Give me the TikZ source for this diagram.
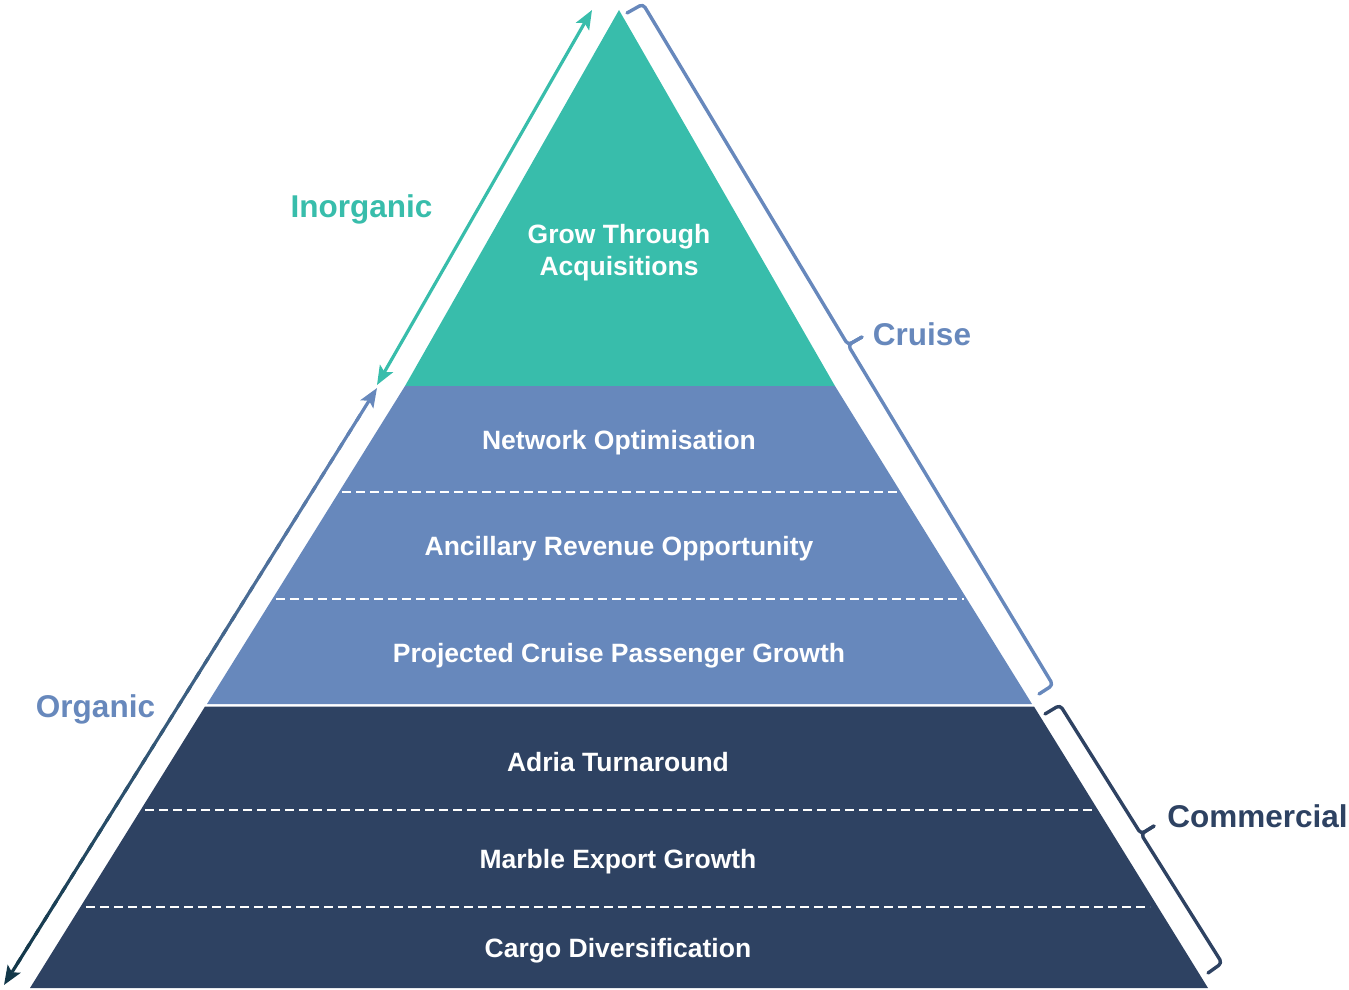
\documentclass[tikz,border=0pt]{standalone}
\usepackage{fontspec}
\setmainfont{Liberation Sans}
\usetikzlibrary{arrows.meta,calc}
\definecolor{teal1}{HTML}{38BDAB}
\definecolor{blue1}{HTML}{6788BC}
\definecolor{navy1}{HTML}{2E4262}
\definecolor{orgtop}{HTML}{6788BC}
\definecolor{orgbot}{HTML}{123749}
\begin{document}
\begin{tikzpicture}[x=1pt,y=-1pt,
  bandtext/.style={text=white,font=\fontsize{26.5}{32}\selectfont\bfseries,anchor=base,inner sep=0pt},
  sidetext/.style={font=\fontsize{31.5}{36}\selectfont\bfseries,anchor=base,inner sep=0pt},
  divider/.style={white,line width=1.8pt,dash pattern=on 8.5pt off 5.5pt},
  bracket/.style={line width=3.4pt,rounded corners=4pt,line cap=round,line join=round},
  tipstyle/.style={-{Stealth[length=19pt,width=15pt,inset=4pt]}},
]
\useasboundingbox (0,0) rectangle (1349,990);
% pyramid
\fill[teal1] (619,10) -- (835,386) -- (405,386) -- cycle;
\fill[blue1] (405,386) -- (835,386) -- (1032,704) -- (207,704) -- cycle;
\fill[navy1] (205,706.5) -- (1034,706.5) -- (1208,988) -- (30,988) -- cycle;
% dividers
\draw[divider] (342,492) -- (899,492);
\draw[divider] (276,599) -- (964,599);
\draw[divider] (145,810) -- (1095,810);
\draw[divider] (86,907) -- (1150,907);
% texts
\node[bandtext] (grow1) at (619,243.5) {Grow Through};
\node[bandtext] (grow2) at (619,275.5) {Acquisitions};
\node[bandtext] (net) at (619,449.5) {Network Optimisation};
\node[bandtext] (anc) at (619,555.5) {Ancillary Revenue Opportunity};
\node[bandtext] (proj) at (619,662.5) {Projected Cruise Passenger Growth};
\node[bandtext] (adria) at (618,771.5) {Adria Turnaround};
\node[bandtext] (marble) at (618,868.5) {Marble Export Growth};
\node[bandtext] (cargo) at (618,957.5) {Cargo Diversification};
% side labels
\node[sidetext,text=teal1] (inorg) at (361.5,217) {Inorganic};
\node[sidetext,text=blue1] (org) at (95.5,717) {Organic};
\node[sidetext,text=blue1] (cruise) at (922,345) {Cruise};
\node[sidetext,text=navy1] (comm) at (1257.5,827) {Commercial};
% inorganic arrow
\coordinate (inA) at (377,385);
\coordinate (inB) at (592,10);
\draw[teal1,line width=3.2pt,{Stealth[length=19pt,width=15pt,inset=4pt]}-{Stealth[length=19pt,width=15pt,inset=4pt]}] (inA) -- (inB);
% organic arrow with gradient
\coordinate (orgA) at (377,388);
\coordinate (orgB) at (4,985);
\coordinate (orgA2) at ($(orgA)!15pt!(orgB)$);
\coordinate (orgB2) at ($(orgB)!15pt!(orgA)$);
\foreach \i in {0,...,39}{
  \pgfmathsetmacro{\ta}{\i/40}
  \pgfmathsetmacro{\tb}{min(1,(\i+1.4)/40)}
  \pgfmathtruncatemacro{\pc}{100-(\i+0.5)*2.5}
  \draw[orgtop!\pc!orgbot,line width=3.2pt] ($(orgA2)!\ta!(orgB2)$) -- ($(orgA2)!\tb!(orgB2)$);
}
\draw[orgtop,line width=3.2pt,tipstyle] (orgA2) -- (orgA);
\draw[orgbot,line width=3.2pt,tipstyle] (orgB2) -- (orgB);
% cruise bracket
\coordinate (crS) at (627,13);
\coordinate (crC1) at (643,4);
\coordinate (crM) at (848,345);
\coordinate (crT) at (862,337);
\coordinate (crC2) at (1053,685);
\coordinate (crE) at (1039,694);
\draw[blue1,bracket] (crS) -- (crC1) -- (crM) -- (crT);
\draw[blue1,bracket] (crT) -- (crM) -- (crC2) -- (crE);
% commercial bracket
\coordinate (cmS) at (1045,714);
\coordinate (cmC1) at (1060,705);
\coordinate (cmM) at (1141,834);
\coordinate (cmT) at (1154,826);
\coordinate (cmC2) at (1222,963);
\coordinate (cmE) at (1208,973);
\draw[navy1,bracket] (cmS) -- (cmC1) -- (cmM) -- (cmT);
\draw[navy1,bracket] (cmT) -- (cmM) -- (cmC2) -- (cmE);
\end{tikzpicture}
\end{document}
